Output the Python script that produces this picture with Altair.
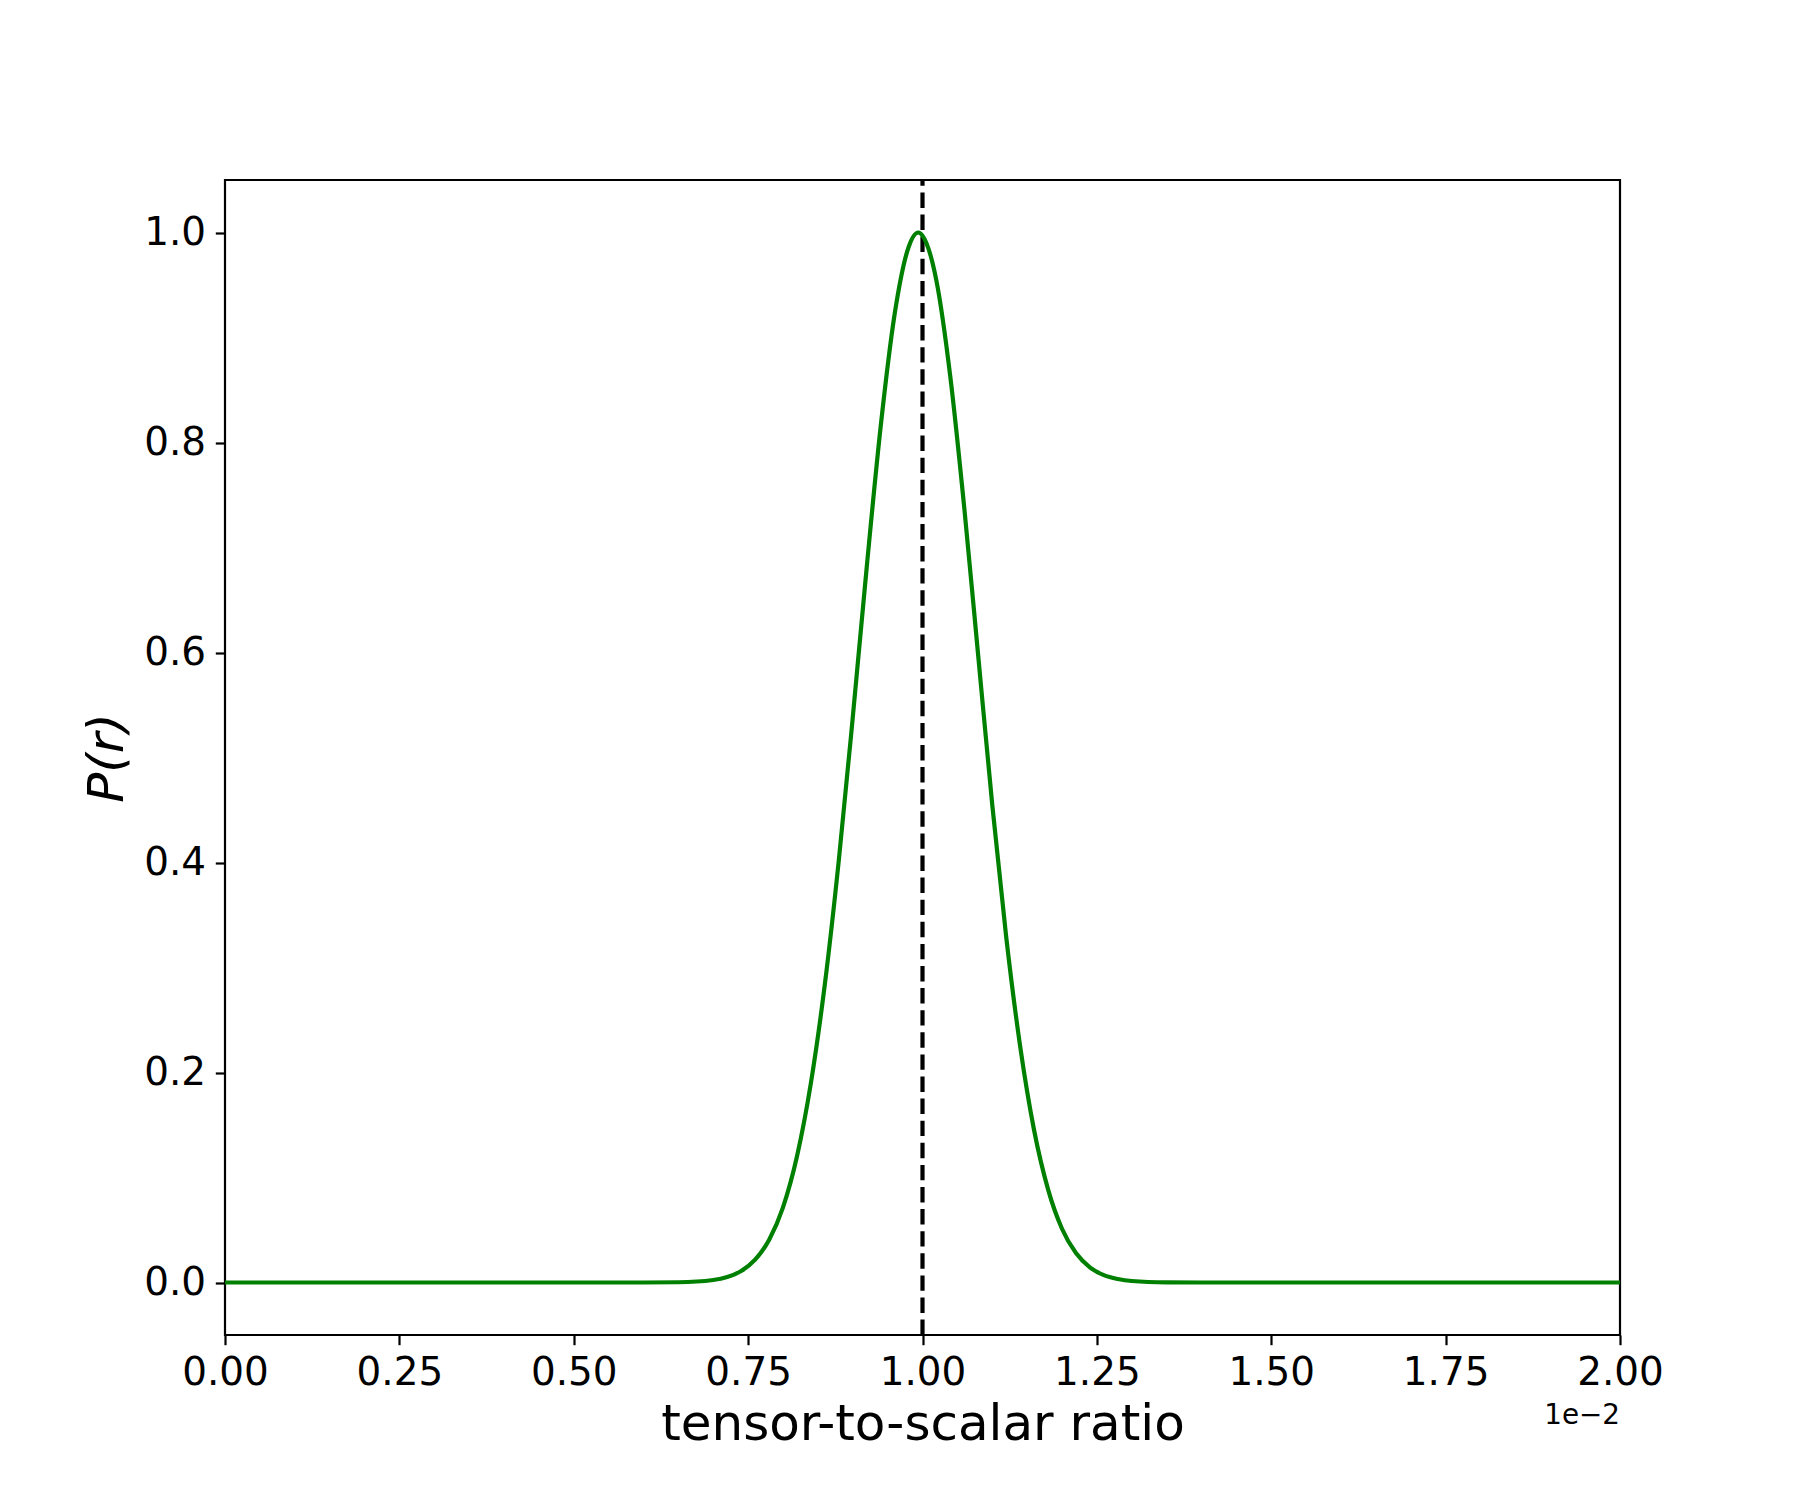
import altair as alt
import pandas as pd

# tensor-to-scalar ratio (in units of 1e-2) and normalised posterior P(r)
r_vals = [0.0, 0.2, 0.4, 0.5, 0.6, 0.65, 0.70, 0.72, 0.74, 0.76, 0.78, 0.80, 0.82, 0.84,
          0.86, 0.88, 0.90, 0.92, 0.94, 0.96, 0.98, 0.994, 1.00, 1.02, 1.04, 1.06, 1.08,
          1.10, 1.12, 1.14, 1.16, 1.18, 1.20, 1.22, 1.24, 1.26, 1.28, 1.30, 1.35, 1.40,
          1.6, 1.8, 2.0]
p_vals = [0.0, 0.0, 0.0, 0.0, 0.00002, 0.00025, 0.0024, 0.0052, 0.0109, 0.0217, 0.0405,
          0.0716, 0.120, 0.190, 0.284, 0.402, 0.538, 0.681, 0.815, 0.922, 0.986, 1.0,
          0.997, 0.954, 0.862, 0.737, 0.596, 0.455, 0.329, 0.225, 0.145, 0.0887, 0.0512,
          0.0280, 0.0144, 0.0070, 0.0033, 0.0014, 0.00014, 0.00001, 0.0, 0.0, 0.0]

r_true = [1.0]
x_ticks = [0.0, 0.25, 0.5, 0.75, 1.0, 1.25, 1.5, 1.75, 2.0]
y_ticks = [0.0, 0.2, 0.4, 0.6, 0.8, 1.0]
x_title = "tensor-to-scalar ratio"
y_title = "P(r)"
offset_text = ["1e\u22122"]

W, H = 1395, 1155
FONT = "DejaVu Sans"

df = pd.DataFrame({"r": r_vals, "P": p_vals})
df_true = pd.DataFrame({"r": r_true})
df_off = pd.DataFrame({"r": [x_ticks[-1]], "t": offset_text})

xscale = alt.Scale(domain=[0, 2], nice=False, zero=False)
yscale = alt.Scale(domain=[-0.05, 1.05], nice=False, zero=False)

xaxis = alt.Axis(
    values=x_ticks, format=".2f", title=x_title, grid=False, domain=False,
    tickColor="black", tickWidth=2.2, tickSize=9.7, labelPadding=8.6,
    labelFontSize=38.9, labelColor="black", labelFont=FONT,
    titleFontSize=50, titleFont=FONT, titleFontWeight="normal", titleColor="black",
    titleX=W / 2, titleY=104, titleBaseline="alphabetic", titleAlign="center",
    labelFlush=False, labelOverlap=False,
)
yaxis = alt.Axis(
    values=y_ticks, format=".1f", title=y_title, grid=False, domain=False,
    tickColor="black", tickWidth=2.2, tickSize=9.7, labelPadding=9.7,
    labelFontSize=38.9, labelColor="black", labelFont=FONT,
    titleFontSize=50, titleFont=FONT, titleFontStyle="italic", titleFontWeight="normal",
    titleColor="black", titleX=-117.5, titleY=H / 2, titleAngle=270,
    titleBaseline="middle", titleAlign="center",
    labelFlush=False, labelOverlap=False,
)

line = alt.Chart(df).mark_line(color="#008000", strokeWidth=4.2, interpolate="monotone").encode(
    x=alt.X("r:Q", scale=xscale, axis=xaxis),
    y=alt.Y("P:Q", scale=yscale, axis=yaxis),
)

rule = alt.Chart(df_true).mark_rule(color="black", strokeWidth=4.2, strokeDash=[15.4, 6.7]).encode(
    x=alt.X("r:Q", scale=xscale, title=x_title),
    y=alt.value(H),
    y2=alt.value(0),
)

off = alt.Chart(df_off).mark_text(
    align="right", baseline="alphabetic", fontSize=27.8, font=FONT, color="black"
).encode(
    x=alt.X("r:Q", scale=xscale, title=x_title),
    y=alt.value(H + 89),
    text="t:N",
)

chart = alt.layer(rule, line, off).properties(
    width=W, height=H,
    autosize=alt.AutoSizeParams(type="none"),
    padding={"left": 217, "top": 172, "right": 170, "bottom": 150},
).configure(
    background="white",
    view=alt.ViewConfig(stroke="black", strokeWidth=2.2),
)

chart.save("out.html", embed_options={"renderer": "svg", "actions": False})
